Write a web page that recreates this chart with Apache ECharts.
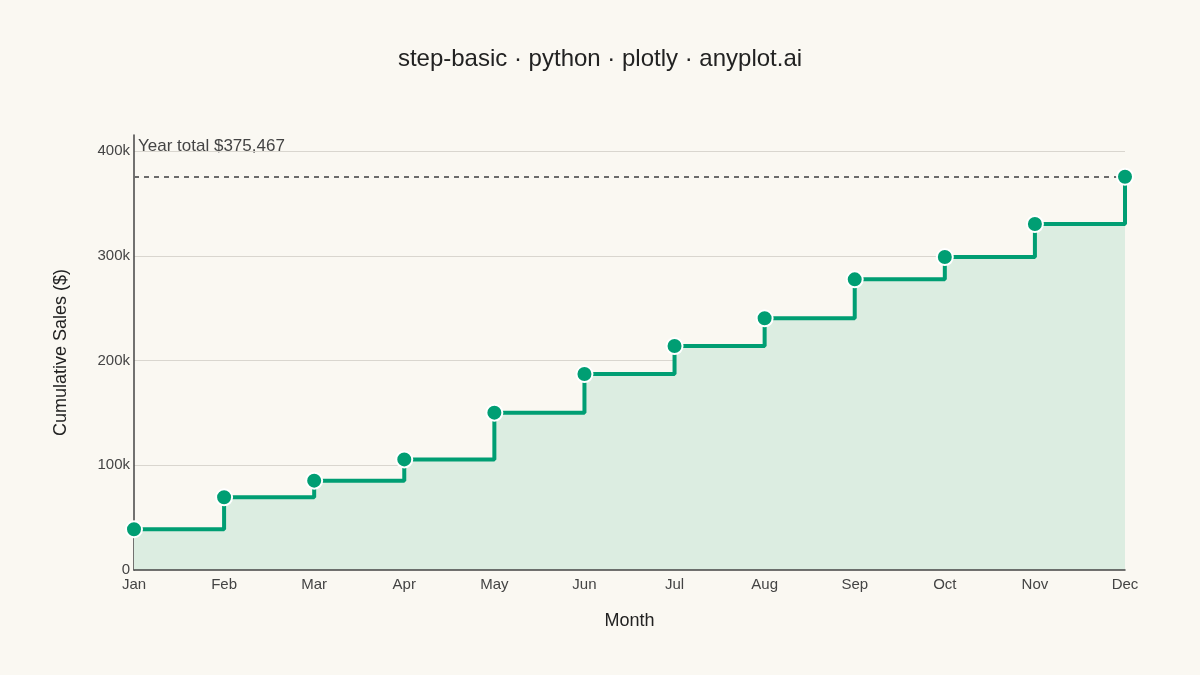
<!DOCTYPE html>
<html>
<head>
<meta charset="utf-8">
<script src="https://cdn.jsdelivr.net/npm/echarts@6/dist/echarts.min.js"></script>
<style>
  html, body { margin: 0; padding: 0; background: #faf8f2; }
  #chart { width: 1200px; height: 675px; }
</style>
</head>
<body>
<div id="chart"></div>
<script>
// month labels and cumulative sales ($)
var months = ['Jan', 'Feb', 'Mar', 'Apr', 'May', 'Jun', 'Jul', 'Aug', 'Sep', 'Oct', 'Nov', 'Dec'];
var cumulativeSales = [38900, 69400, 85300, 105600, 150200, 187100, 213800, 240300, 277500, 298800, 330300, 375467];
var yearTotal = 375467;
var yTicks = [0, 100000, 200000, 300000, 400000];

var chart = echarts.init(document.getElementById('chart'));

function fmtK(v) {
  return v === 0 ? '0' : (v / 1000) + 'k';
}

var option = {
  backgroundColor: '#faf8f2',
  textStyle: { fontFamily: 'Liberation Sans, Arial, sans-serif' },
  title: {
    text: 'step-basic · python · plotly · anyplot.ai',
    left: 'center',
    top: 42,
    textStyle: { fontSize: 24, fontWeight: 'normal', color: '#222' }
  },
  grid: { left: 134, right: 75, top: 135, bottom: 105, containLabel: false },
  xAxis: {
    type: 'category',
    data: months,
    boundaryGap: false,
    z: 5,
    name: 'Month',
    nameLocation: 'middle',
    nameGap: 42,
    nameTextStyle: { fontSize: 18, color: '#222' },
    axisLine: { lineStyle: { color: '#444', width: 1.5 } },
    axisTick: { show: false },
    axisLabel: { fontSize: 15, color: '#444', margin: 7, showMaxLabel: true },
    splitLine: { show: false }
  },
  yAxis: {
    type: 'value',
    min: yTicks[0],
    max: 415300,
    interval: 100000,
    name: 'Cumulative Sales ($)',
    nameLocation: 'middle',
    nameGap: 64,
    nameTextStyle: { fontSize: 18, color: '#222' },
    axisLine: { show: true, lineStyle: { color: '#444', width: 1.5 } },
    axisTick: { show: false },
    axisLabel: {
      fontSize: 15,
      color: '#444',
      margin: 4,
      showMaxLabel: false,
      formatter: fmtK
    },
    splitLine: {
      show: true,
      showMinLine: false,
      showMaxLine: false,
      lineStyle: { color: '#d9d6cf', width: 1.2 }
    }
  },
  series: [{
    name: 'Cumulative Sales',
    type: 'line',
    step: 'end',
    data: cumulativeSales,
    symbol: 'circle',
    symbolSize: 16,
    clip: true,
    lineStyle: { color: '#009e73', width: 4 },
    itemStyle: { color: '#009e73', borderColor: '#ffffff', borderWidth: 2 },
    areaStyle: { color: '#dcede1', opacity: 1 },
    z: 3,
    markLine: {
      silent: true,
      symbol: 'none',
      label: { show: false },
      lineStyle: { color: '#6b6b6b', type: [5, 5], width: 2 },
      data: [{ yAxis: yearTotal }],
      z: 2
    }
  }],
  graphic: [{
    type: 'text',
    left: 138,
    top: 138,
    style: {
      text: 'Year total $' + yearTotal.toLocaleString('en-US'),
      fontSize: 17,
      fill: '#444',
      fontFamily: 'Liberation Sans, Arial, sans-serif'
    }
  }]
};

chart.setOption(option);
</script>
</body>
</html>
